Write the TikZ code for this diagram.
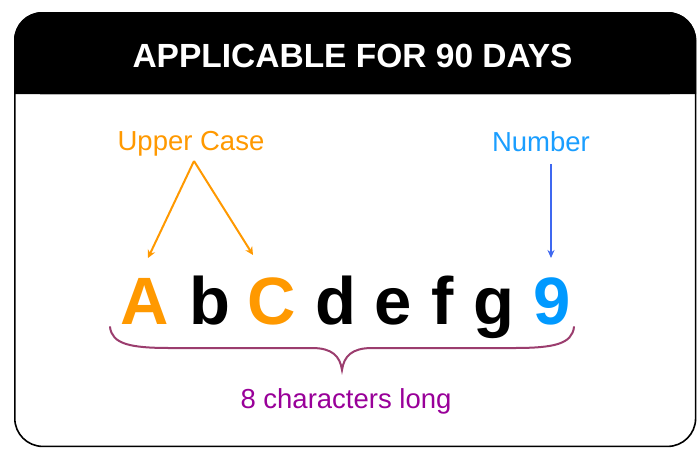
\documentclass[tikz,border=0pt]{standalone}
\usepackage{fontspec}
\setmainfont{Liberation Sans}
\usetikzlibrary{arrows.meta}
\definecolor{upc}{HTML}{FF9900}
\definecolor{numc}{HTML}{0099FF}
\definecolor{numlab}{HTML}{1A9EFF}
\definecolor{arrblue}{HTML}{3F68F0}
\definecolor{bracec}{HTML}{9B3D6E}
\definecolor{lenc}{HTML}{990099}
\tikzset{
  lbl/.style={inner sep=0pt, anchor=base, font=\fontsize{27.5}{30}\selectfont},
  big/.style={inner sep=0pt, anchor=base, font=\fontsize{67}{70}\selectfont\bfseries},
  upar/.style={draw=upc, line width=2pt, -{Stealth[length=8pt,width=8pt]}},
  numar/.style={draw=arrblue, line width=2pt, -{Stealth[length=8pt,width=7pt]}},
}
\begin{document}
\begin{tikzpicture}[x=1pt,y=-1pt]
\useasboundingbox (0,0) rectangle (697,448);
% card
\fill[white] (0,0) rectangle (697,448);
\fill[black] (14,94) {[rounded corners=28pt] -- (14,12) -- (696,12)} -- (696,94) -- cycle;
\draw[black, line width=1.6pt, rounded corners=28pt] (14.8,12.8) rectangle (695.6,446.4);
\draw[gray!60, line width=0.8pt] (40,94.5) -- (670,94.5);
\node[inner sep=0pt, anchor=base, text=white, font=\fontsize{33.5}{36}\selectfont\bfseries] (title) at (352.5,67) {APPLICABLE FOR 90 DAYS};
% labels
\node[lbl, text=upc] (upper) at (191,150) {Upper Case};
\node[lbl, text=numlab] (number) at (541,151) {Number};
% letters
\node[big, text=upc] (A) at (144.5,324) {A};
\node[big] (b) at (209.5,324) {b};
\node[big, text=upc] (C) at (272,324) {C};
\node[big] (d) at (336,324) {d};
\node[big] (e) at (393.5,324) {e};
\node[big] (f) at (443,324) {f};
\node[big] (g) at (493.5,324) {g};
\node[big, text=numc] (nine) at (552,324) {9};
% arrows
\coordinate (apex) at (194,161);
\coordinate (tipA) at (148,258);
\coordinate (tipC) at (253,255);
\coordinate (nstart) at (551,164);
\coordinate (tipN) at (551,258);
\draw[upar] (apex) -- (tipA);
\draw[upar] (apex) -- (tipC);
\draw[numar] (nstart) -- (tipN);
% brace
\draw[bracec, line width=2pt, line cap=round]
  (110,327) .. controls (112,344) and (130,348) .. (170,348) -- (312,348)
  .. controls (332,348) and (340,356) .. (342,370)
  .. controls (344,356) and (352,348) .. (372,348) -- (514,348)
  .. controls (554,348) and (572,344) .. (574,327);
\node[lbl, text=lenc] (len) at (346,408) {8 characters long};
\end{tikzpicture}
\end{document}
